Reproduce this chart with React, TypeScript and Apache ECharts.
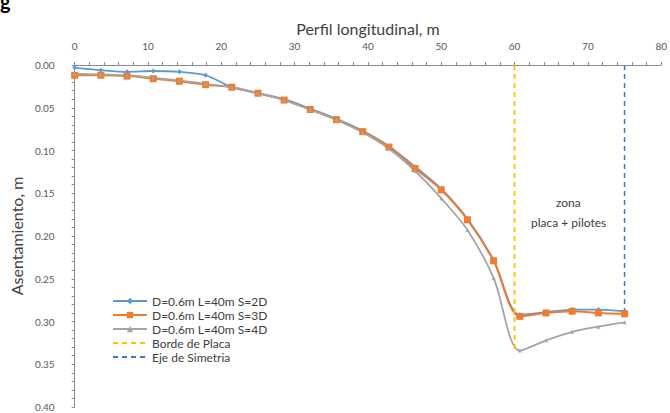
import React, { useEffect, useRef } from "react";
import * as echarts from "echarts";

const xPositions = [0, 3.57, 7.14, 10.71, 14.29, 17.86, 21.43, 25, 28.57, 32.14, 35.71, 39.29, 42.86, 46.43, 50, 53.57, 57.14, 60.71, 64.29, 67.86, 71.43, 75];
const s2D = [0.003, 0.006, 0.008, 0.007, 0.008, 0.012, 0.026, 0.033, 0.040, 0.051, 0.063, 0.077, 0.095, 0.119, 0.145, 0.180, 0.228, 0.292, 0.289, 0.286, 0.286, 0.288];
const s3D = [0.012, 0.012, 0.013, 0.016, 0.019, 0.023, 0.026, 0.033, 0.041, 0.052, 0.064, 0.078, 0.096, 0.121, 0.146, 0.181, 0.229, 0.294, 0.290, 0.288, 0.290, 0.291];
const s4D = [0.010, 0.011, 0.012, 0.015, 0.018, 0.022, 0.026, 0.033, 0.041, 0.052, 0.064, 0.079, 0.098, 0.124, 0.156, 0.193, 0.249, 0.334, 0.322, 0.312, 0.306, 0.301];
const bordeLine = [[60, 0], [60, 0.337]];
const ejeLine = [[75, 0], [75, 0.29]];
const seriesNames = ["D=0.6m L=40m S=2D", "D=0.6m L=40m S=3D", "D=0.6m L=40m S=4D", "Borde de Placa", "Eje de Simetria"];

const FONT = "Lato, 'Noto Sans', sans-serif";

export default function App() {
  const ref = useRef<HTMLDivElement>(null);
  useEffect(() => {
    if (!ref.current) return;
    const chart = echarts.init(ref.current, null, { renderer: "svg" });
    const zip = (ys: number[]) => xPositions.map((x, i) => [x, ys[i]]);
    chart.setOption({
      animation: false,
      backgroundColor: "#ffffff",
      textStyle: { fontFamily: FONT },
      grid: { left: 73, right: 8, top: 65, bottom: 6 },
      xAxis: {
        type: "value",
        position: "top",
        min: 0,
        max: 80,
        interval: 10,
        name: "Perfil longitudinal, m",
        nameLocation: "middle",
        nameGap: 28,
        nameTextStyle: { fontSize: 16, color: "#404040", fontFamily: FONT },
        axisLine: { show: true, lineStyle: { color: "#8c8c8c", width: 1 } },
        axisTick: { show: true, length: 3, lineStyle: { color: "#8c8c8c" } },
        minorTick: { show: true, splitNumber: 5, length: 3, lineStyle: { color: "#8c8c8c" } },
        axisLabel: { fontSize: 10, color: "#595959", margin: 14, fontFamily: FONT },
        splitLine: { show: false },
      },
      yAxis: {
        type: "value",
        inverse: true,
        min: 0,
        max: 0.4,
        interval: 0.05,
        name: "Asentamiento, m",
        nameLocation: "middle",
        nameGap: 49,
        nameTextStyle: { fontSize: 16, color: "#404040", fontFamily: FONT },
        axisLine: { show: true, lineStyle: { color: "#8c8c8c", width: 1 } },
        axisTick: { show: true, length: 3, lineStyle: { color: "#8c8c8c" } },
        minorTick: { show: true, splitNumber: 5, length: 3, lineStyle: { color: "#8c8c8c" } },
        axisLabel: { fontSize: 10, color: "#595959", margin: 20, fontFamily: FONT, formatter: (v: number) => v.toFixed(2) },
        splitLine: { show: false },
      },
      legend: {
        orient: "vertical",
        left: 107,
        top: 290,
        itemGap: 2,
        itemWidth: 34,
        itemHeight: 8,
        textStyle: { fontSize: 12, color: "#404040", fontFamily: FONT },
        data: [
          { name: seriesNames[0] },
          { name: seriesNames[1] },
          { name: seriesNames[2] },
          { name: seriesNames[3], itemStyle: { opacity: 0 } },
          { name: seriesNames[4], itemStyle: { opacity: 0 } },
        ],
      },
      series: [
        {
          name: seriesNames[0],
          type: "line",
          data: zip(s2D),
          smooth: 0.3,
          symbol: "diamond",
          symbolSize: 5,
          itemStyle: { color: "#5B9BD5" },
          lineStyle: { color: "#5B9BD5", width: 1.8 },
        },
        {
          name: seriesNames[1],
          type: "line",
          data: zip(s3D),
          smooth: 0.3,
          symbol: "rect",
          symbolSize: 7,
          itemStyle: { color: "#ED7D31" },
          lineStyle: { color: "#ED7D31", width: 2 },
        },
        {
          name: seriesNames[2],
          type: "line",
          data: zip(s4D),
          smooth: 0.3,
          symbol: "triangle",
          symbolSize: 4,
          itemStyle: { color: "#A5A5A5" },
          lineStyle: { color: "#A5A5A5", width: 1.8 },
        },
        {
          name: seriesNames[3],
          type: "line",
          data: bordeLine,
          symbol: "none",
          itemStyle: { color: "#FFC000" },
          lineStyle: { color: "#FFC000", width: 1.8, type: [5, 4] },
        },
        {
          name: seriesNames[4],
          type: "line",
          data: ejeLine,
          symbol: "none",
          itemStyle: { color: "#4472C4" },
          lineStyle: { color: "#4472C4", width: 1.5, type: [5, 4] },
        },
      ],
      graphic: [
        {
          type: "text",
          left: 556,
          top: 196,
          style: { text: "zona", fontSize: 12, fill: "#404040", fontFamily: FONT },
        },
        {
          type: "text",
          left: 531,
          top: 216,
          style: { text: "placa + pilotes", fontSize: 12, fill: "#404040", fontFamily: FONT },
        },
        {
          type: "text",
          left: 0,
          top: -9,
          style: { text: "g", fontSize: 20, fontWeight: "bold", fill: "#000000", fontFamily: FONT },
        },
      ],
    });
    return () => chart.dispose();
  }, []);
  return <div ref={ref} style={{ width: 670, height: 413, position: "absolute", left: 0, top: 0 }} />;
}
